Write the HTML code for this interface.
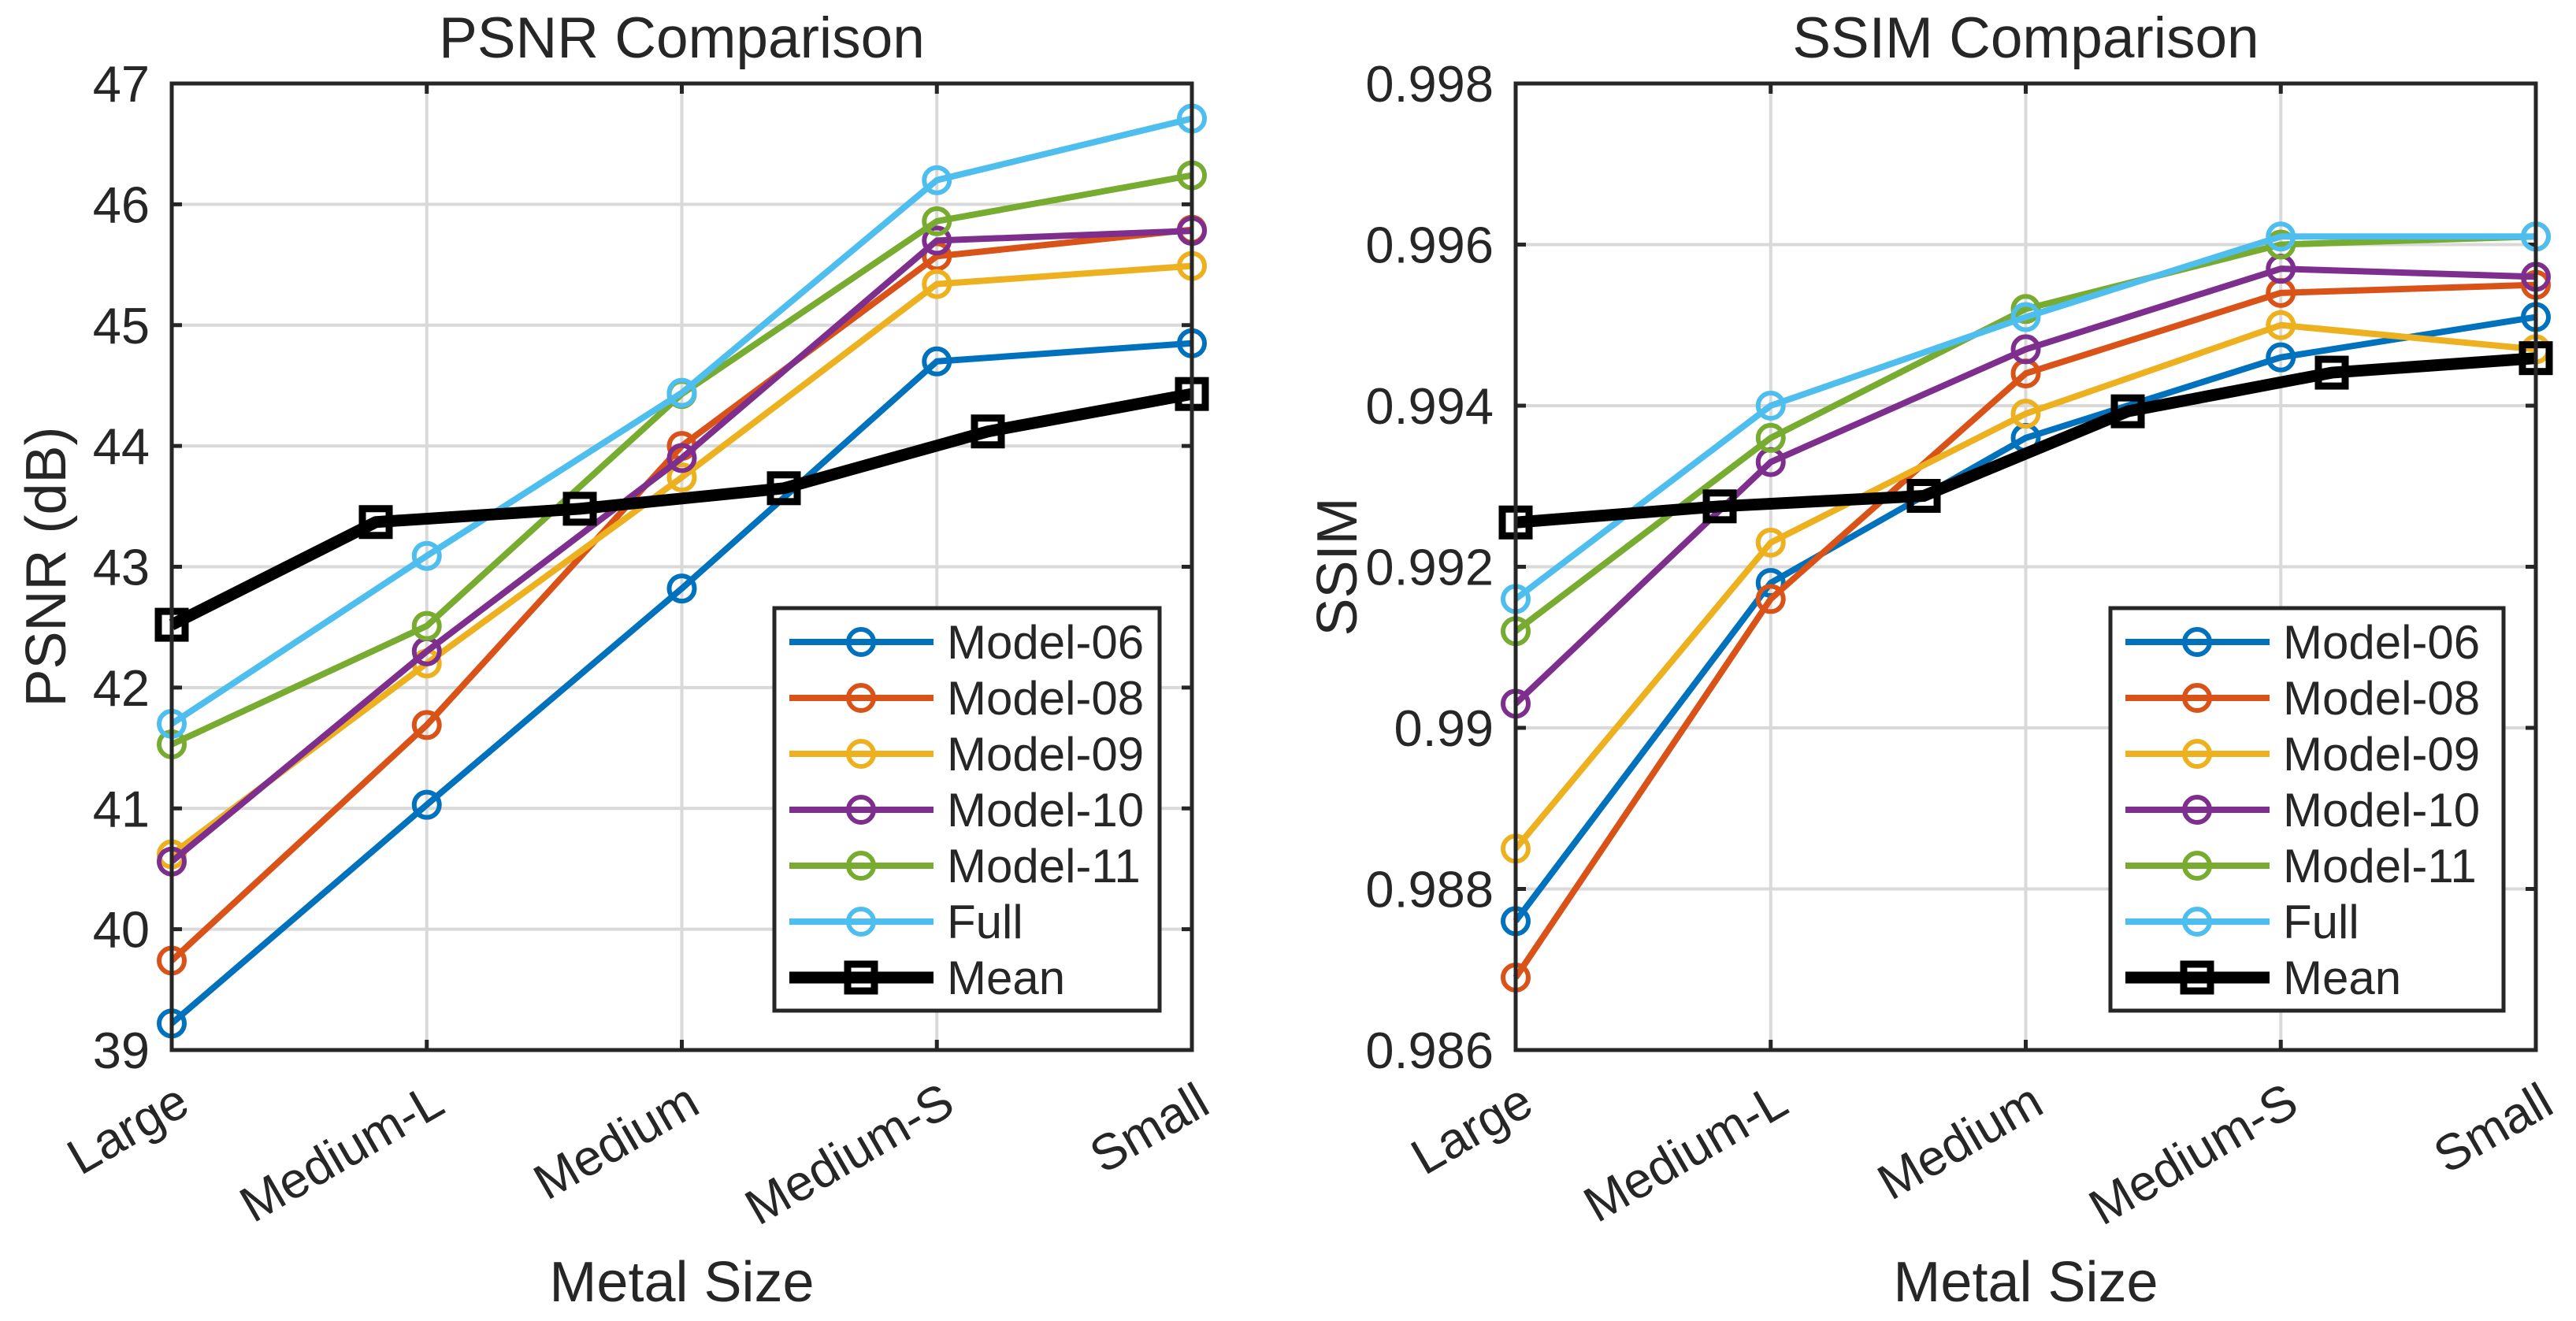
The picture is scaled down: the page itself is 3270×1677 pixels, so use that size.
<!DOCTYPE html>
<html><head><meta charset="utf-8"><style>
html,body{margin:0;padding:0;background:#fff;}
svg{display:block;font-family:"Liberation Sans",Arial,sans-serif;}
</style></head><body>
<svg id="fig" width="3270" height="1677" viewBox="0 0 3270 1677" xmlns="http://www.w3.org/2000/svg"></svg>
<script>
const categories = ["Large","Medium-L","Medium","Medium-S","Small"];
const seriesNames = ["Model-06","Model-08","Model-09","Model-10","Model-11","Full","Mean"];
const psnrM06 = [39.22, 41.03, 42.82, 44.70, 44.85];
const psnrM08 = [39.74, 41.69, 44.00, 45.57, 45.79];
const psnrM09 = [40.62, 42.20, 43.74, 45.34, 45.49];
const psnrM10 = [40.56, 42.30, 43.90, 45.70, 45.78];
const psnrM11 = [41.53, 42.51, 44.43, 45.86, 46.24];
const psnrFull = [41.70, 43.09, 44.44, 46.20, 46.71];
const psnrMean = [42.52, 43.37, 43.48, 43.65, 44.12, 44.43];
const ssimM06 = [0.9876, 0.9918, 0.9936, 0.9946, 0.9951];
const ssimM08 = [0.9869, 0.9916, 0.9944, 0.9954, 0.9955];
const ssimM09 = [0.9885, 0.9923, 0.9939, 0.9950, 0.9947];
const ssimM10 = [0.9903, 0.9933, 0.9947, 0.9957, 0.9956];
const ssimM11 = [0.9912, 0.9936, 0.9952, 0.9960, 0.9961];
const ssimFull = [0.9916, 0.9940, 0.9951, 0.9961, 0.9961];
const ssimMean = [0.99255, 0.99275, 0.99288, 0.99393, 0.99441, 0.99459];
const psnrTicks = [39,40,41,42,43,44,45,46,47];
const psnrTickLabels = ["39","40","41","42","43","44","45","46","47"];
const ssimTicks = [0.986,0.988,0.990,0.992,0.994,0.996,0.998];
const ssimTickLabels = ["0.986","0.988","0.99","0.992","0.994","0.996","0.998"];

const colors = ["#0072BD","#D95319","#EDB120","#7E2F8E","#77AC30","#4DBEEE","#000000"];
const NS = "http://www.w3.org/2000/svg";
const svg = document.getElementById("fig");
function mk(tag, attrs, parent){
  const e = document.createElementNS(NS, tag);
  for (const k in attrs) e.setAttribute(k, attrs[k]);
  (parent||svg).appendChild(e);
  return e;
}

function drawPanel(opt){
  const L = opt.left, T = 106, W = 1295, H = 1227, B = T + H, R = L + W;
  const yMin = opt.ticks[0], yMax = opt.ticks[opt.ticks.length-1];
  const xs = i => L + i * W / (categories.length - 1);
  const xm = i => L + i * W / (opt.mean.length - 1);
  const ys = v => B - (v - yMin) / (yMax - yMin) * H;
  const g = mk("g", {});
  
  
  mk("rect", {x:L, y:T, width:W, height:H, fill:"#fff"}, g);
  categories.forEach((c,i) => {
    if (i>0 && i<categories.length-1) {
      const l = mk("line", {x1:xs(i), x2:xs(i), y1:T, y2:B, stroke:"#d9d9d9", "stroke-width":4}, g);
      
      
    }
  });
  opt.ticks.forEach((t,i) => {
    if (i>0 && i<opt.ticks.length-1) {
      const l = mk("line", {x1:L, x2:R, y1:ys(t), y2:ys(t), stroke:"#d9d9d9", "stroke-width":4}, g);
      
      
    }
  });
  const tk = mk("g", {stroke:"#262626","stroke-width":5}, g);
  categories.forEach((c,i) => {
    mk("line", {x1:xs(i), x2:xs(i), y1:B, y2:B-13}, tk);
    mk("line", {x1:xs(i), x2:xs(i), y1:T, y2:T+13}, tk);
  });
  opt.ticks.forEach(t => {
    mk("line", {x1:L, x2:L+13, y1:ys(t), y2:ys(t)}, tk);
    mk("line", {x1:R, x2:R-13, y1:ys(t), y2:ys(t)}, tk);
  });
  opt.ticks.forEach((t,i) => {
    const tx = mk("text", {x:L-28, y:ys(t)+23, "text-anchor":"end", "font-size":65, fill:"#262626"}, g);
    tx.textContent = opt.tickLabels[i];
    
    
  });
  categories.forEach((c,i) => {
    const x = xs(i)+26, y = B+78;
    const tx = mk("text", {x:x, y:y, "text-anchor":"end", "font-size":64, fill:"#262626", transform:`rotate(-30 ${x} ${y})`}, g);
    tx.textContent = c;
    
    
  });
  opt.series.forEach((vals, s) => {
    const sg = mk("g", {}, g);
    
    
    const pts = vals.map((v,i) => xs(i)+","+ys(v)).join(" ");
    mk("polyline", {points:pts, fill:"none", stroke:colors[s], "stroke-width":8, "stroke-linejoin":"round"}, sg);
    vals.forEach((v,i) => {
      const c = mk("circle", {cx:xs(i), cy:ys(v), r:16, fill:"none", stroke:colors[s], "stroke-width":6}, sg);
      
      
    });
  });
  const mg = mk("g", {}, g);
  
  
  mk("polyline", {points:opt.mean.map((v,i)=>xm(i)+","+ys(v)).join(" "), fill:"none", stroke:"#000", "stroke-width":15, "stroke-linejoin":"round"}, mg);
  opt.mean.forEach((v,i) => {
    const r = mk("rect", {x:xm(i)-17, y:ys(v)-17, width:34, height:34, fill:"none", stroke:"#000", "stroke-width":9}, mg);
    
    
  });
  mk("rect", {x:L, y:T, width:W, height:H, fill:"none", stroke:"#262626", "stroke-width":5}, g);
  const lx = opt.legendX, ly = 772, lw = R - 41 - lx, lh = 1283 - 772;
  const lg = mk("g", {}, g);
  
  
  mk("rect", {x:lx, y:ly, width:lw, height:lh, fill:"#fff", stroke:"#262626", "stroke-width":5}, lg);
  seriesNames.forEach((n,s) => {
    const y = 815 + s*71;
    const e = mk("g", {}, lg);
    
    
    mk("line", {x1:lx+19, x2:lx+202, y1:y, y2:y, stroke:colors[s], "stroke-width": s===6?15:8}, e);
    if (s===6) mk("rect", {x:lx+110-17, y:y-17, width:34, height:34, fill:"none", stroke:"#000","stroke-width":9}, e);
    else mk("circle", {cx:lx+110, cy:y, r:16, fill:"none", stroke:colors[s], "stroke-width":6}, e);
    const t = mk("text", {x:lx+219, y:y+21, "font-size":60, fill:"#262626"}, e);
    t.textContent = n;
  });
  const ti = mk("text", {x:L+W/2, y:73, "text-anchor":"middle", "font-size":73, fill:"#262626"}, g);
  ti.textContent = opt.title;
  
  
  const xl = mk("text", {x:L+W/2, y:1652, "text-anchor":"middle", "font-size":72, fill:"#262626"}, g);
  xl.textContent = "Metal Size";
  
  
  const yx = opt.ylabelX, yy = T + H/2;
  const yl = mk("text", {x:yx, y:yy, "text-anchor":"middle", "font-size":72, fill:"#262626", transform:`rotate(-90 ${yx} ${yy})`}, g);
  yl.textContent = opt.ylabel;
  
  
}

drawPanel({name:"psnr-chart", left:218, ticks:psnrTicks, tickLabels:psnrTickLabels,
  series:[psnrM06,psnrM08,psnrM09,psnrM10,psnrM11,psnrFull], mean:psnrMean,
  legendX:983, title:"PSNR Comparison", ylabel:"PSNR (dB)", ylabelX:83});
drawPanel({name:"ssim-chart", left:1924, ticks:ssimTicks, tickLabels:ssimTickLabels,
  series:[ssimM06,ssimM08,ssimM09,ssimM10,ssimM11,ssimFull], mean:ssimMean,
  legendX:2679, title:"SSIM Comparison", ylabel:"SSIM", ylabelX:1722});
</script>
</body></html>
